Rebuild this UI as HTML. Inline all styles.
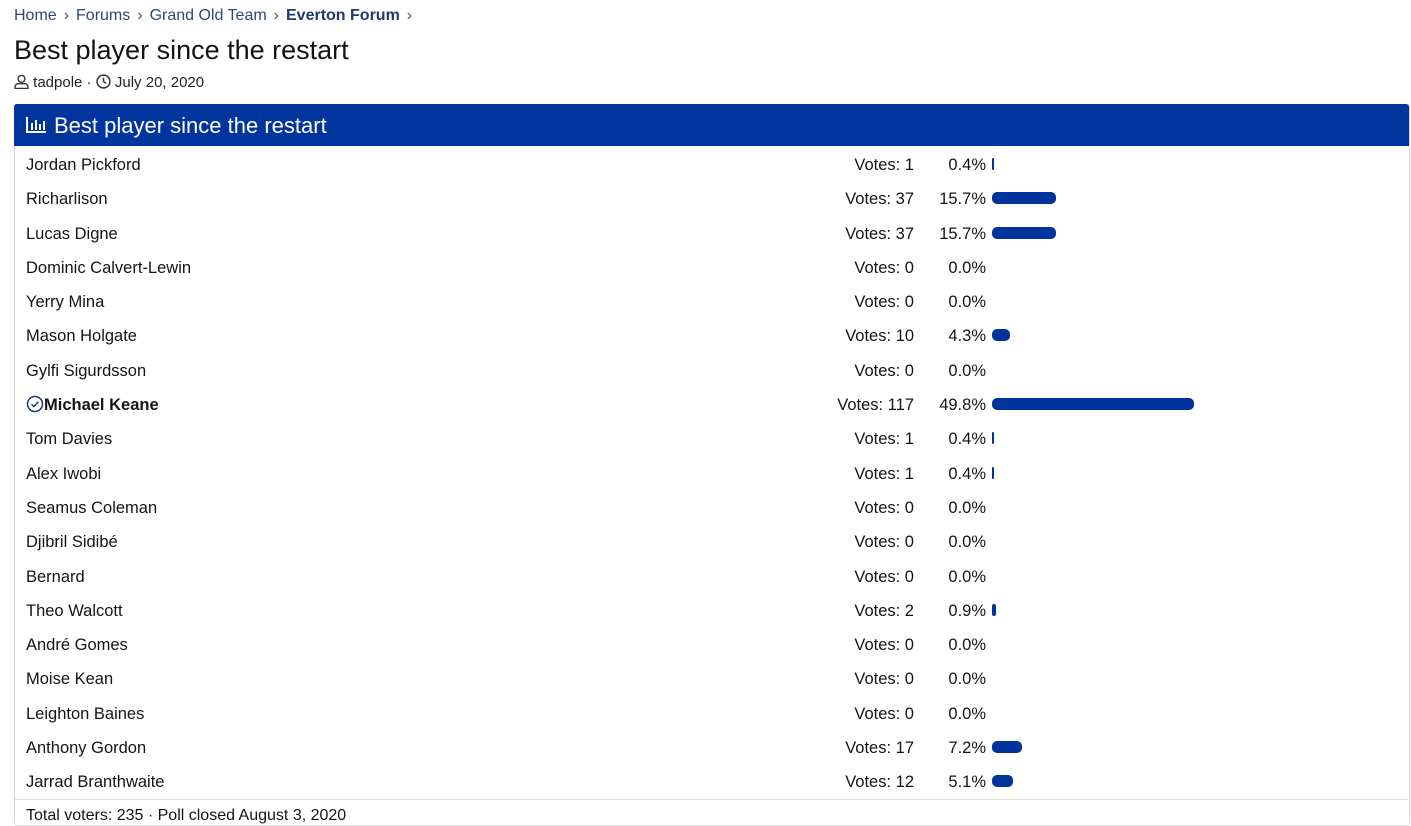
<!DOCTYPE html>
<html><head><meta charset="utf-8"><style>
body{margin:0;width:1411px;height:815px;overflow:hidden;background:#fff;font-family:"Liberation Sans",Arial,sans-serif;color:#141414;position:relative}
.a{position:absolute;white-space:nowrap}
.bc{top:7px;left:14px;font-size:16px;color:#2b4a7a}
.bc b{color:#1f3a70}
.sep{color:#555;margin:0 7px}
h1{position:absolute;left:14px;top:35px;margin:0;font-size:27px;font-weight:normal;color:#141414}
.meta{top:74px;left:14px;font-size:15px;color:#222}
.panel{position:absolute;left:14px;top:104px;width:1394px;height:720px;border:1px solid #d8d8d8;border-radius:3px}
.hdr{position:absolute;left:14px;top:104px;width:1395px;height:42px;background:#00359e;border-radius:3px 3px 0 0;color:#fff;font-size:22px}
.row{position:absolute;left:15px;width:1393px;height:34px;font-size:16.5px}
.row .n{position:absolute;left:11px;top:9px}
.row .v{position:absolute;right:494px;top:9px}
.row .p{position:absolute;right:422px;top:9px}
.row .b{position:absolute;left:977px;top:11px;height:12px;background:#00349c;border-radius:5px}
.foot{position:absolute;left:15px;top:799px;width:1393px;border-top:1px solid #ddd}
</style></head><body>
<div class="a bc">Home<span class="sep">›</span>Forums<span class="sep">›</span>Grand Old Team<span class="sep">›</span><b>Everton Forum</b><span class="sep">›</span></div>
<h1>Best player since the restart</h1>
<div class="a meta"><svg width="15" height="15" viewBox="0 0 14 14" style="vertical-align:-2px"><circle cx="7" cy="4.5" r="3.2" fill="none" stroke="#333" stroke-width="1.3"/><path d="M1 13.5v-1.5a3 3 0 0 1 3-3h6a3 3 0 0 1 3 3v1.5z" fill="none" stroke="#333" stroke-width="1.3"/></svg> tadpole · <svg width="15" height="15" viewBox="0 0 14 14" style="vertical-align:-2px"><circle cx="7" cy="7" r="6" fill="none" stroke="#333" stroke-width="1.4"/><path d="M7 3.5V7l2.5 1.8" fill="none" stroke="#333" stroke-width="1.4"/></svg> July 20, 2020</div>
<div class="panel"></div>
<div class="hdr"><svg width="20" height="16" viewBox="0 0 20 16" style="position:absolute;left:12px;top:13px"><path d="M1 0v15h19" fill="none" stroke="#fff" stroke-width="2"/><rect x="5" y="6" width="2" height="7" fill="#fff"/><rect x="9" y="3" width="2" height="10" fill="#fff"/><rect x="13" y="7" width="2" height="6" fill="#fff"/><rect x="17" y="4" width="2" height="9" fill="#fff"/></svg><span style="position:absolute;left:40px;top:9px">Best player since the restart</span></div>
<div class="row" style="top:147px"><span class="n">Jordan Pickford</span><span class="v">Votes: 1</span><span class="p">0.4%</span><span class="b" style="width:2px;border-radius:1px"></span></div>
<div class="row" style="top:181px"><span class="n">Richarlison</span><span class="v">Votes: 37</span><span class="p">15.7%</span><span class="b" style="width:64px"></span></div>
<div class="row" style="top:216px"><span class="n">Lucas Digne</span><span class="v">Votes: 37</span><span class="p">15.7%</span><span class="b" style="width:64px"></span></div>
<div class="row" style="top:250px"><span class="n">Dominic Calvert-Lewin</span><span class="v">Votes: 0</span><span class="p">0.0%</span></div>
<div class="row" style="top:284px"><span class="n">Yerry Mina</span><span class="v">Votes: 0</span><span class="p">0.0%</span></div>
<div class="row" style="top:318px"><span class="n">Mason Holgate</span><span class="v">Votes: 10</span><span class="p">4.3%</span><span class="b" style="width:18px"></span></div>
<div class="row" style="top:353px"><span class="n">Gylfi Sigurdsson</span><span class="v">Votes: 0</span><span class="p">0.0%</span></div>
<div class="row" style="top:387px"><span class="n" style="top:8px"><svg width="18" height="18" viewBox="0 0 18 18" style="vertical-align:-3px"><circle cx="9" cy="9" r="7.5" fill="none" stroke="#1f3a70" stroke-width="1.5"/><path d="M5.5 9.2l2.4 2.4 4.6-4.8" fill="none" stroke="#1f3a70" stroke-width="1.5"/></svg><b>Michael Keane</b></span><span class="v">Votes: 117</span><span class="p">49.8%</span><span class="b" style="width:202px"></span></div>
<div class="row" style="top:421px"><span class="n">Tom Davies</span><span class="v">Votes: 1</span><span class="p">0.4%</span><span class="b" style="width:2px;border-radius:1px"></span></div>
<div class="row" style="top:456px"><span class="n">Alex Iwobi</span><span class="v">Votes: 1</span><span class="p">0.4%</span><span class="b" style="width:2px;border-radius:1px"></span></div>
<div class="row" style="top:490px"><span class="n">Seamus Coleman</span><span class="v">Votes: 0</span><span class="p">0.0%</span></div>
<div class="row" style="top:524px"><span class="n">Djibril Sidibé</span><span class="v">Votes: 0</span><span class="p">0.0%</span></div>
<div class="row" style="top:559px"><span class="n">Bernard</span><span class="v">Votes: 0</span><span class="p">0.0%</span></div>
<div class="row" style="top:593px"><span class="n">Theo Walcott</span><span class="v">Votes: 2</span><span class="p">0.9%</span><span class="b" style="width:4px;border-radius:2px"></span></div>
<div class="row" style="top:627px"><span class="n">André Gomes</span><span class="v">Votes: 0</span><span class="p">0.0%</span></div>
<div class="row" style="top:661px"><span class="n">Moise Kean</span><span class="v">Votes: 0</span><span class="p">0.0%</span></div>
<div class="row" style="top:696px"><span class="n">Leighton Baines</span><span class="v">Votes: 0</span><span class="p">0.0%</span></div>
<div class="row" style="top:730px"><span class="n">Anthony Gordon</span><span class="v">Votes: 17</span><span class="p">7.2%</span><span class="b" style="width:30px"></span></div>
<div class="row" style="top:764px"><span class="n">Jarrad Branthwaite</span><span class="v">Votes: 12</span><span class="p">5.1%</span><span class="b" style="width:21px"></span></div>
<div class="foot"><span class="a" style="left:11px;top:7px;font-size:16px">Total voters: 235 · Poll closed August 3, 2020</span></div>
</body></html>
